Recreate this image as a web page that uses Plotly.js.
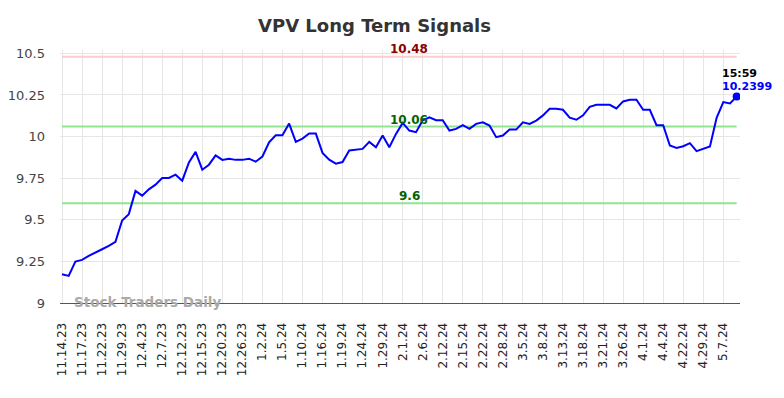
<!DOCTYPE html>
<html>
<head>
<meta charset="utf-8">
<script src="https://cdn.plot.ly/plotly-3.0.1.min.js"></script>
<style>html,body{margin:0;padding:0;background:#fff;}#chart{width:784px;height:398px;}</style>
</head>
<body>
<div id="chart"></div>
<script>
const dates = [
"11.14.23","11.15.23","11.16.23","11.17.23","11.20.23","11.21.23","11.22.23","11.24.23","11.27.23",
"11.29.23","11.30.23","12.1.23","12.4.23","12.5.23","12.6.23","12.7.23","12.8.23","12.11.23",
"12.12.23","12.13.23","12.14.23","12.15.23","12.18.23","12.19.23","12.20.23","12.21.23","12.22.23",
"12.26.23","12.27.23","12.29.23","1.2.24","1.3.24","1.4.24","1.5.24","1.8.24","1.9.24",
"1.10.24","1.11.24","1.12.24","1.16.24","1.17.24","1.18.24","1.19.24","1.22.24","1.23.24",
"1.24.24","1.25.24","1.26.24","1.29.24","1.30.24","1.31.24","2.1.24","2.2.24","2.5.24",
"2.6.24","2.7.24","2.8.24","2.12.24","2.13.24","2.14.24","2.15.24","2.16.24","2.20.24",
"2.22.24","2.23.24","2.27.24","2.28.24","2.29.24","3.1.24","3.5.24","3.6.24","3.7.24",
"3.8.24","3.11.24","3.12.24","3.13.24","3.14.24","3.15.24","3.18.24","3.19.24","3.20.24",
"3.21.24","3.22.24","3.25.24","3.26.24","3.27.24","3.28.24","4.1.24","4.2.24","4.3.24",
"4.4.24","4.5.24","4.8.24","4.22.24","4.23.24","4.24.24","4.29.24","4.30.24","5.1.24",
"5.7.24","5.8.24","5.9.24"
];
const prices = [
9.173,9.163,9.249,9.259,9.283,9.305,9.323,9.343,9.367,
9.496,9.534,9.673,9.645,9.683,9.711,9.751,9.751,9.771,
9.735,9.845,9.908,9.801,9.831,9.887,9.860,9.867,9.860,
9.860,9.867,9.849,9.880,9.966,10.008,10.008,10.078,9.968,
9.988,10.018,10.018,9.902,9.861,9.837,9.847,9.916,9.920,
9.926,9.968,9.936,10.006,9.936,10.016,10.082,10.036,10.026,
10.098,10.116,10.098,10.098,10.036,10.046,10.068,10.046,10.076,
10.086,10.066,9.996,10.006,10.042,10.042,10.086,10.076,10.096,
10.127,10.167,10.167,10.161,10.113,10.101,10.128,10.179,10.191,
10.191,10.191,10.169,10.211,10.221,10.221,10.161,10.161,10.068,
10.068,9.946,9.932,9.942,9.960,9.912,9.924,9.940,10.113,
10.207,10.199,10.2399
];
const tickLabels = [
"11.14.23","11.17.23","11.22.23","11.29.23","12.4.23","12.7.23","12.12.23","12.15.23","12.20.23",
"12.26.23","1.2.24","1.5.24","1.10.24","1.16.24","1.19.24","1.24.24","1.29.24","2.1.24",
"2.6.24","2.12.24","2.15.24","2.22.24","2.28.24","3.5.24","3.8.24","3.13.24","3.18.24",
"3.21.24","3.26.24","4.1.24","4.4.24","4.22.24","4.29.24","5.7.24"
];
const yTicks = [9, 9.25, 9.5, 9.75, 10, 10.25, 10.5];
const yTickText = ['9', '9.25', '9.5', '9.75', '10', '10.25', '10.5'];
const resistanceHigh = 10.48;
const resistanceMid = 10.06;
const support = 9.6;
const lastTime = "15:59";

const lastIdx = prices.length - 1;
const midIdx = 52;
const F = 'DejaVu Sans, sans-serif';

const traces = [
  {x: dates, y: dates.map(() => resistanceHigh), type: 'scatter', mode: 'lines',
   line: {color: '#ffcccc', width: 2}, hoverinfo: 'skip'},
  {x: dates, y: dates.map(() => resistanceMid), type: 'scatter', mode: 'lines',
   line: {color: '#90e690', width: 2}, hoverinfo: 'skip'},
  {x: dates, y: dates.map(() => support), type: 'scatter', mode: 'lines',
   line: {color: '#90e690', width: 2}, hoverinfo: 'skip'},
  {x: dates, y: prices, type: 'scatter', mode: 'lines',
   line: {color: '#0000ff', width: 2}},
  {x: [dates[lastIdx]], y: [prices[lastIdx]], type: 'scatter', mode: 'markers',
   marker: {color: '#0000ff', size: 8}}
];

const layout = {
  width: 784, height: 398,
  margin: {l: 60, r: 44, t: 50, b: 95},
  paper_bgcolor: '#ffffff', plot_bgcolor: '#ffffff',
  showlegend: false,
  title: {text: '<b>VPV Long Term Signals</b>', xref: 'container', x: 0.4777, xanchor: 'center',
          yref: 'container', y: 0.935, yanchor: 'middle',
          font: {family: F, size: 18, color: '#333333'}},
  xaxis: {
    type: 'category', tickmode: 'array', tickvals: tickLabels, ticktext: tickLabels,
    tickangle: -90, range: [-0.3, 101.5],
    showgrid: true, gridcolor: '#e6e6e6', gridwidth: 1,
    showline: true, linecolor: '#555555', linewidth: 1,
    ticks: '', zeroline: false, ticklabelstandoff: 14,
    tickfont: {family: F, size: 12, color: '#222222'}
  },
  yaxis: {
    range: [9, 10.52], tickmode: 'array', tickvals: yTicks, ticktext: yTickText,
    showgrid: true, gridcolor: '#e6e6e6', gridwidth: 1, zeroline: false,
    showline: false, ticks: '', ticklabelstandoff: 14,
    tickfont: {family: F, size: 13, color: '#444444'}
  },
  annotations: [
    {x: dates[midIdx], y: resistanceHigh, text: '<b>' + resistanceHigh.toFixed(2) + '</b>', showarrow: false,
     yanchor: 'bottom', yshift: -1, font: {family: F, size: 12, color: '#8b0000'}},
    {x: dates[midIdx], y: resistanceMid, text: '<b>' + resistanceMid.toFixed(2) + '</b>', showarrow: false,
     yanchor: 'bottom', yshift: -2, font: {family: F, size: 12, color: '#006400'}},
    {x: dates[midIdx], y: support, text: '<b>' + support + '</b>', showarrow: false,
     yanchor: 'bottom', yshift: -2, font: {family: F, size: 12, color: '#006400'}},
    {x: dates[lastIdx], y: prices[lastIdx], text: '<b>' + lastTime + '</b>', showarrow: false,
     xanchor: 'left', xshift: -17, yanchor: 'middle', yshift: 23, font: {family: F, size: 11, color: '#000000'}},
    {x: dates[lastIdx], y: prices[lastIdx], text: '<b>' + prices[lastIdx] + '</b>', showarrow: false,
     xanchor: 'left', xshift: -17, yanchor: 'middle', yshift: 10, font: {family: F, size: 11, color: '#0000ff'}},
    {xref: 'paper', yref: 'paper', x: 0.018, y: 0.0, xanchor: 'left', yanchor: 'middle', yshift: 1,
     text: '<b>Stock Traders Daily</b>', showarrow: false,
     font: {family: F, size: 13.5, color: '#aaaaaa'}}
  ]
};

Plotly.newPlot('chart', traces, layout, {displayModeBar: false, staticPlot: true});
</script>
</body>
</html>
